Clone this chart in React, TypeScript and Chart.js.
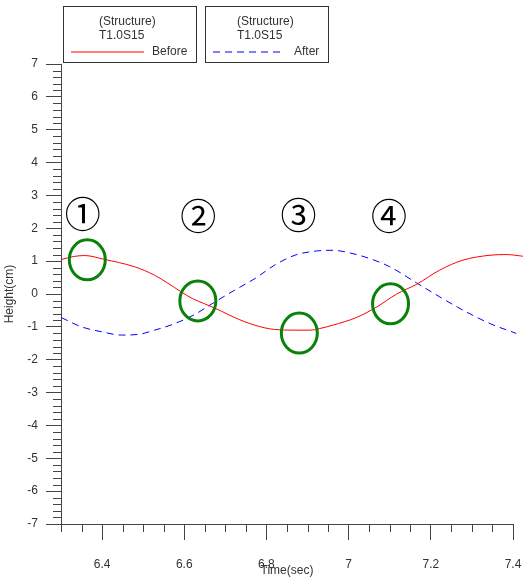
import React, { useEffect, useRef } from 'react';
import { Chart, registerables } from 'chart.js';

Chart.register(...registerables);

// ---- data ----
const beforeTime = [6.301, 6.33, 6.358, 6.407, 6.44, 6.48, 6.528, 6.56, 6.593, 6.62, 6.65, 6.69, 6.723, 6.772, 6.82, 6.869, 6.905, 6.93, 6.961, 7.02, 7.069, 7.117, 7.166, 7.222, 7.278, 7.344, 7.385, 7.424];
const beforeHeight = [1.05, 1.14, 1.17, 1.05, 0.96, 0.825, 0.57, 0.33, 0.06, -0.14, -0.3, -0.52, -0.72, -0.95, -1.08, -1.1, -1.1, -1.05, -0.95, -0.71, -0.39, 0.0, 0.3, 0.73, 1.03, 1.18, 1.2, 1.15];
const afterTime = [6.301, 6.35, 6.399, 6.447, 6.488, 6.528, 6.577, 6.626, 6.662, 6.723, 6.772, 6.82, 6.869, 6.922, 6.962, 7.003, 7.051, 7.1, 7.165, 7.222, 7.278, 7.344, 7.408];
const afterHeight = [-0.72, -1.0, -1.15, -1.25, -1.23, -1.1, -0.9, -0.62, -0.34, 0.12, 0.47, 0.88, 1.18, 1.31, 1.33, 1.25, 1.08, 0.83, 0.34, -0.09, -0.49, -0.9, -1.2];

const seriesNames = ['Before', 'After'];
const groupName = '(Structure)';
const caseName = 'T1.0S15';

const xMajorTicks = [6.4, 6.6, 6.8, 7.0, 7.2, 7.4];
const yMajorTicks = [-7, -6, -5, -4, -3, -2, -1, 0, 1, 2, 3, 4, 5, 6, 7];

const markerLabels = ['\u2460', '\u2461', '\u2462', '\u2463'];
const markerTime = [6.353, 6.634, 6.878, 7.098];
const markerHeight = [2.42, 2.37, 2.39, 2.35];
const circleTime = [6.364, 6.633, 6.88, 7.102];
const circleHeight = [1.04, -0.21, -1.19, -0.3];

const FONT = '"Liberation Sans", Arial, sans-serif';
const AXIS_COLOR = '#444';
const TEXT_COLOR = '#333';

const overlayPlugin = {
  id: 'overlay',
  afterDraw(chart: any) {
    const { ctx } = chart;
    const x = chart.scales.x;
    const y = chart.scales.y;
    ctx.save();
    // minor ticks
    ctx.strokeStyle = AXIS_COLOR;
    ctx.lineWidth = 1;
    ctx.beginPath();
    for (let i = 0; i <= 70; i++) {
      const v = -7 + i * 0.2;
      if (Math.abs(v - Math.round(v)) < 1e-6) continue;
      const py = Math.round(y.getPixelForValue(v)) + 0.5;
      ctx.moveTo(y.right - 8, py);
      ctx.lineTo(y.right, py);
    }
    for (let k = 0; k <= 22; k++) {
      const v = 6.3 + k * 0.05;
      if (xMajorTicks.some((t) => Math.abs(t - v) < 1e-6)) continue;
      const px = Math.round(x.getPixelForValue(v)) + 0.5;
      ctx.moveTo(px, x.top);
      ctx.lineTo(px, x.top + 8);
    }
    ctx.stroke();

    // green ellipses
    ctx.strokeStyle = '#0a820a';
    ctx.lineWidth = 3;
    for (let i = 0; i < circleTime.length; i++) {
      ctx.beginPath();
      ctx.ellipse(x.getPixelForValue(circleTime[i]), y.getPixelForValue(circleHeight[i]), 18, 20, 0, 0, Math.PI * 2);
      ctx.stroke();
    }

    // circled numbers
    ctx.fillStyle = '#000';
    ctx.font = '36px "Noto Sans CJK JP", "DejaVu Sans", sans-serif';
    ctx.textAlign = 'center';
    ctx.textBaseline = 'middle';
    for (let i = 0; i < markerLabels.length; i++) {
      ctx.fillText(markerLabels[i], x.getPixelForValue(markerTime[i]), y.getPixelForValue(markerHeight[i]));
    }

    // legend boxes
    const boxes = [
      { left: 63.5, right: 196.5, textX: 99, lineX0: 71, lineX1: 144, labelX: 152, color: '#ff0000', dash: [] as number[], name: seriesNames[0] },
      { left: 205.5, right: 328.5, textX: 237, lineX0: 213, lineX1: 283, labelX: 294, color: '#0000ff', dash: [7, 5], name: seriesNames[1] },
    ];
    ctx.font = '12px ' + FONT;
    ctx.textAlign = 'left';
    ctx.textBaseline = 'middle';
    for (const b of boxes) {
      ctx.setLineDash([]);
      ctx.lineWidth = 1;
      ctx.strokeStyle = '#333333';
      ctx.strokeRect(b.left, 6.5, b.right - b.left, 56);
      ctx.fillStyle = TEXT_COLOR;
      ctx.fillText(groupName, b.textX, 21.5);
      ctx.fillText(caseName, b.textX, 36);
      ctx.fillText(b.name, b.labelX, 51.5);
    }
    for (const b of boxes) {
      ctx.beginPath();
      ctx.lineWidth = 1;
      ctx.setLineDash(b.dash);
      ctx.strokeStyle = b.color;
      ctx.moveTo(b.lineX0, 52);
      ctx.lineTo(b.lineX1, 52);
      ctx.stroke();
    }
    ctx.restore();
  },
};

export default function App() {
  const canvasRef = useRef<HTMLCanvasElement | null>(null);

  useEffect(() => {
    if (!canvasRef.current) return;
    const chart = new Chart(canvasRef.current, {
      type: 'scatter',
      data: {
        datasets: [
          {
            label: seriesNames[0],
            data: beforeTime.map((t, i) => ({ x: t, y: beforeHeight[i] })),
            showLine: true,
            borderColor: 'red',
            borderWidth: 1,
            pointRadius: 0,
            cubicInterpolationMode: 'monotone',
            clip: false,
          } as any,
          {
            label: seriesNames[1],
            data: afterTime.map((t, i) => ({ x: t, y: afterHeight[i] })),
            showLine: true,
            borderColor: 'blue',
            borderWidth: 1,
            borderDash: [7, 5],
            pointRadius: 0,
            cubicInterpolationMode: 'monotone',
            clip: false,
          } as any,
        ],
      },
      options: {
        animation: false,
        responsive: false,
        layout: { padding: { top: 64, right: 19, bottom: 0, left: 0 } },
        plugins: { legend: { display: false }, tooltip: { enabled: false } },
        scales: {
          x: {
            type: 'linear',
            min: 6.3,
            max: 7.4,
            afterBuildTicks: (scale: any) => {
              scale.ticks = xMajorTicks.map((v) => ({ value: v }));
            },
            afterFit: (scale: any) => {
              scale.height = 54;
              scale.paddingLeft = 0;
              scale.paddingRight = 0;
            },
            grid: { drawOnChartArea: false, drawTicks: true, tickLength: 16, color: AXIS_COLOR },
            border: { display: true, color: AXIS_COLOR, width: 1 },
            ticks: {
              color: TEXT_COLOR,
              font: { family: FONT, size: 12 },
              padding: 17,
              maxRotation: 0,
              callback: (v: any) => String(Number(Number(v).toFixed(2))),
            },
            title: {
              display: true,
              text: 'Time(sec)',
              color: TEXT_COLOR,
              font: { family: FONT, size: 12 },
              padding: 0,
            },
          },
          y: {
            type: 'linear',
            min: -7,
            max: 7,
            afterBuildTicks: (scale: any) => {
              scale.ticks = yMajorTicks.map((v) => ({ value: v }));
            },
            afterFit: (scale: any) => {
              scale.width = 61;
              scale.paddingTop = 0;
              scale.paddingBottom = 0;
            },
            grid: { drawOnChartArea: false, drawTicks: true, tickLength: 15, color: AXIS_COLOR },
            border: { display: true, color: AXIS_COLOR, width: 1 },
            ticks: {
              color: TEXT_COLOR,
              font: { family: FONT, size: 12 },
              padding: 8,
              callback: (v: any) => String(v),
            },
            title: {
              display: true,
              text: 'Height(cm)',
              color: TEXT_COLOR,
              font: { family: FONT, size: 12 },
              padding: 2,
            },
          },
        },
      },
      plugins: [overlayPlugin],
    });
    return () => chart.destroy();
  }, []);

  return (
    <div style={{ position: 'fixed', left: 0, top: 0, width: 532, height: 578, background: '#fff' }}>
      <canvas ref={canvasRef} width={532} height={578} style={{ display: 'block' }} />
    </div>
  );
}
